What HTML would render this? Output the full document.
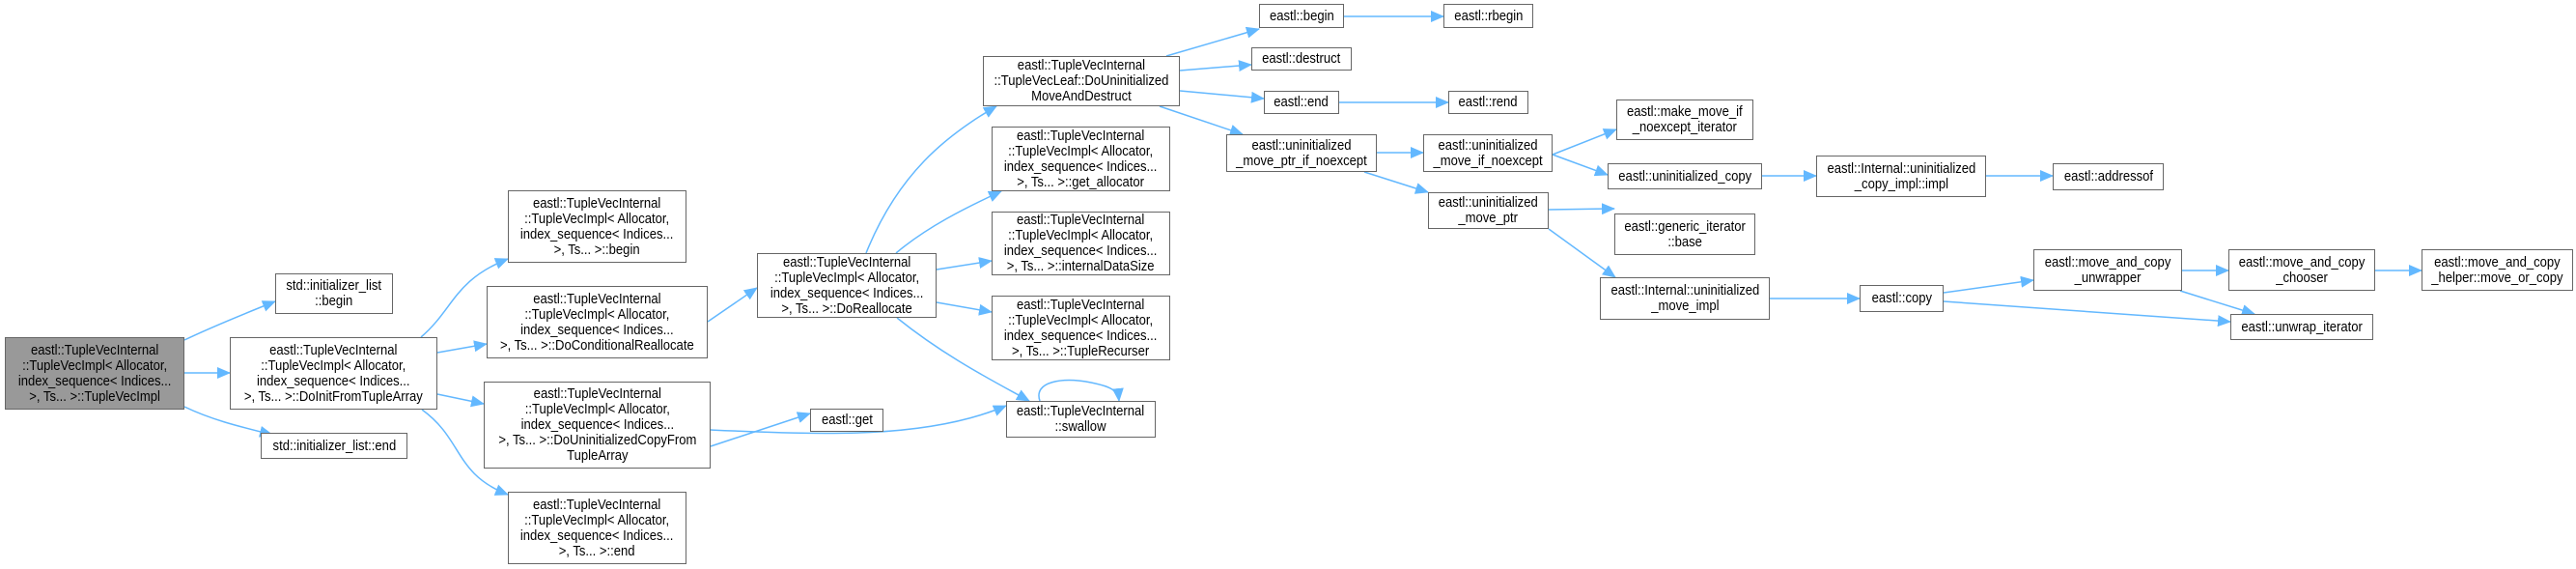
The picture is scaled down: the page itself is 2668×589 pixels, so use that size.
<!DOCTYPE html>
<html><head><meta charset="utf-8"><style>
html,body{margin:0;padding:0;background:#fff;}
#c{position:relative;width:2668px;height:589px;overflow:hidden;font-family:"Liberation Sans",Arial,sans-serif;}
.n{position:absolute;box-sizing:border-box;border:1.5px solid #666;background:#fff;color:#000;font-size:15px;line-height:16px;text-align:center;display:flex;align-items:center;justify-content:center;white-space:nowrap;}
.n>span{display:inline-block;transform:scaleX(0.87);}
.g{background:#999;}
svg{position:absolute;left:0;top:0;}
</style></head><body><div id="c">
<svg width="2668" height="589">
<defs><marker id="a" markerUnits="userSpaceOnUse" markerWidth="14" markerHeight="12" refX="13" refY="6" orient="auto"><path d="M0,0 L14,6 L0,12 z" fill="#63b8ff"/></marker></defs>
<g fill="none" stroke="#63b8ff" stroke-width="1.5" marker-end="url(#a)">
<path d="M191,352 C220,338 255,324 285,312"/>
<path d="M191,386 L238,386"/>
<path d="M191,421 C220,435 250,442 282,450"/>
<path d="M436,349 C470,320 470,290 526,268"/>
<path d="M453,365 L504,356"/>
<path d="M453,408 L501,418"/>
<path d="M437,424 C480,455 470,490 526,512"/>
<path d="M733,333 L784,298"/>
<path d="M736,445 C850,450 960,455 1042,420"/>
<path d="M736,462 L839,428"/>
<path d="M897,262 C930,180 980,140 1032,110"/>
<path d="M928,262 C960,235 1000,215 1037,198"/>
<path d="M970,279 L1027,270"/>
<path d="M970,313 L1027,323"/>
<path d="M929,329 C980,370 1030,395 1066,415"/>
<path d="M1077,415 C1070,395 1100,390 1130,396 C1150,400 1158,404 1159,415"/>
<path d="M1208,58 L1304,30"/>
<path d="M1222,73 L1296,67"/>
<path d="M1222,94 L1309,102"/>
<path d="M1201,110 L1287,139"/>
<path d="M1392,17 L1495,17"/>
<path d="M1387,106 L1500,106"/>
<path d="M1426,158 L1474,158"/>
<path d="M1413,178 L1479,199"/>
<path d="M1608,160 L1674,134"/>
<path d="M1608,160 L1665,181"/>
<path d="M1825,182 L1881,182"/>
<path d="M2057,182 L2126,182"/>
<path d="M1604,217 L1672,216"/>
<path d="M1604,237 L1673,287"/>
<path d="M1833,309 L1926,309"/>
<path d="M2013,303 L2106,290"/>
<path d="M2013,312 L2310,333"/>
<path d="M2260,280 L2308,280"/>
<path d="M2460,280 L2508,280"/>
<path d="M2258,301 L2335,325"/>
</g></svg>
<div class="n g" style="left:5px;top:349px;width:186px;height:75px"><span>eastl::TupleVecInternal<br>::TupleVecImpl&lt; Allocator,<br>index_sequence&lt; Indices...<br>&gt;, Ts... &gt;::TupleVecImpl</span></div>
<div class="n" style="left:285px;top:283px;width:122px;height:42px"><span>std::initializer_list<br>::begin</span></div>
<div class="n" style="left:238px;top:349px;width:215px;height:75px"><span>eastl::TupleVecInternal<br>::TupleVecImpl&lt; Allocator,<br>index_sequence&lt; Indices...<br>&gt;, Ts... &gt;::DoInitFromTupleArray</span></div>
<div class="n" style="left:270px;top:448px;width:152px;height:27px"><span>std::initializer_list::end</span></div>
<div class="n" style="left:526px;top:197px;width:185px;height:75px"><span>eastl::TupleVecInternal<br>::TupleVecImpl&lt; Allocator,<br>index_sequence&lt; Indices...<br>&gt;, Ts... &gt;::begin</span></div>
<div class="n" style="left:504px;top:296px;width:229px;height:75px"><span>eastl::TupleVecInternal<br>::TupleVecImpl&lt; Allocator,<br>index_sequence&lt; Indices...<br>&gt;, Ts... &gt;::DoConditionalReallocate</span></div>
<div class="n" style="left:501px;top:395px;width:235px;height:90px"><span>eastl::TupleVecInternal<br>::TupleVecImpl&lt; Allocator,<br>index_sequence&lt; Indices...<br>&gt;, Ts... &gt;::DoUninitializedCopyFrom<br>TupleArray</span></div>
<div class="n" style="left:526px;top:509px;width:185px;height:75px"><span>eastl::TupleVecInternal<br>::TupleVecImpl&lt; Allocator,<br>index_sequence&lt; Indices...<br>&gt;, Ts... &gt;::end</span></div>
<div class="n" style="left:784px;top:262px;width:186px;height:67px"><span>eastl::TupleVecInternal<br>::TupleVecImpl&lt; Allocator,<br>index_sequence&lt; Indices...<br>&gt;, Ts... &gt;::DoReallocate</span></div>
<div class="n" style="left:1018px;top:58px;width:204px;height:52px"><span>eastl::TupleVecInternal<br>::TupleVecLeaf::DoUninitialized<br>MoveAndDestruct</span></div>
<div class="n" style="left:1027px;top:131px;width:185px;height:67px"><span>eastl::TupleVecInternal<br>::TupleVecImpl&lt; Allocator,<br>index_sequence&lt; Indices...<br>&gt;, Ts... &gt;::get_allocator</span></div>
<div class="n" style="left:1027px;top:219px;width:185px;height:66px"><span>eastl::TupleVecInternal<br>::TupleVecImpl&lt; Allocator,<br>index_sequence&lt; Indices...<br>&gt;, Ts... &gt;::internalDataSize</span></div>
<div class="n" style="left:1027px;top:306px;width:185px;height:67px"><span>eastl::TupleVecInternal<br>::TupleVecImpl&lt; Allocator,<br>index_sequence&lt; Indices...<br>&gt;, Ts... &gt;::TupleRecurser</span></div>
<div class="n" style="left:1042px;top:415px;width:155px;height:38px"><span>eastl::TupleVecInternal<br>::swallow</span></div>
<div class="n" style="left:839px;top:423px;width:76px;height:24px"><span>eastl::get</span></div>
<div class="n" style="left:1304px;top:4px;width:88px;height:25px"><span>eastl::begin</span></div>
<div class="n" style="left:1495px;top:4px;width:93px;height:25px"><span>eastl::rbegin</span></div>
<div class="n" style="left:1296px;top:49px;width:104px;height:24px"><span>eastl::destruct</span></div>
<div class="n" style="left:1309px;top:94px;width:78px;height:24px"><span>eastl::end</span></div>
<div class="n" style="left:1500px;top:94px;width:83px;height:24px"><span>eastl::rend</span></div>
<div class="n" style="left:1270px;top:139px;width:156px;height:39px"><span>eastl::uninitialized<br>_move_ptr_if_noexcept</span></div>
<div class="n" style="left:1474px;top:139px;width:134px;height:39px"><span>eastl::uninitialized<br>_move_if_noexcept</span></div>
<div class="n" style="left:1479px;top:199px;width:125px;height:38px"><span>eastl::uninitialized<br>_move_ptr</span></div>
<div class="n" style="left:1674px;top:103px;width:142px;height:42px"><span>eastl::make_move_if<br>_noexcept_iterator</span></div>
<div class="n" style="left:1665px;top:169px;width:160px;height:27px"><span>eastl::uninitialized_copy</span></div>
<div class="n" style="left:1881px;top:161px;width:176px;height:43px"><span>eastl::Internal::uninitialized<br>_copy_impl::impl</span></div>
<div class="n" style="left:1672px;top:221px;width:146px;height:43px"><span>eastl::generic_iterator<br>::base</span></div>
<div class="n" style="left:1657px;top:287px;width:176px;height:44px"><span>eastl::Internal::uninitialized<br>_move_impl</span></div>
<div class="n" style="left:1926px;top:295px;width:87px;height:28px"><span>eastl::copy</span></div>
<div class="n" style="left:2126px;top:169px;width:115px;height:28px"><span>eastl::addressof</span></div>
<div class="n" style="left:2106px;top:258px;width:154px;height:43px"><span>eastl::move_and_copy<br>_unwrapper</span></div>
<div class="n" style="left:2308px;top:258px;width:152px;height:43px"><span>eastl::move_and_copy<br>_chooser</span></div>
<div class="n" style="left:2508px;top:258px;width:157px;height:43px"><span>eastl::move_and_copy<br>_helper::move_or_copy</span></div>
<div class="n" style="left:2310px;top:325px;width:148px;height:27px"><span>eastl::unwrap_iterator</span></div>
</div></body></html>
